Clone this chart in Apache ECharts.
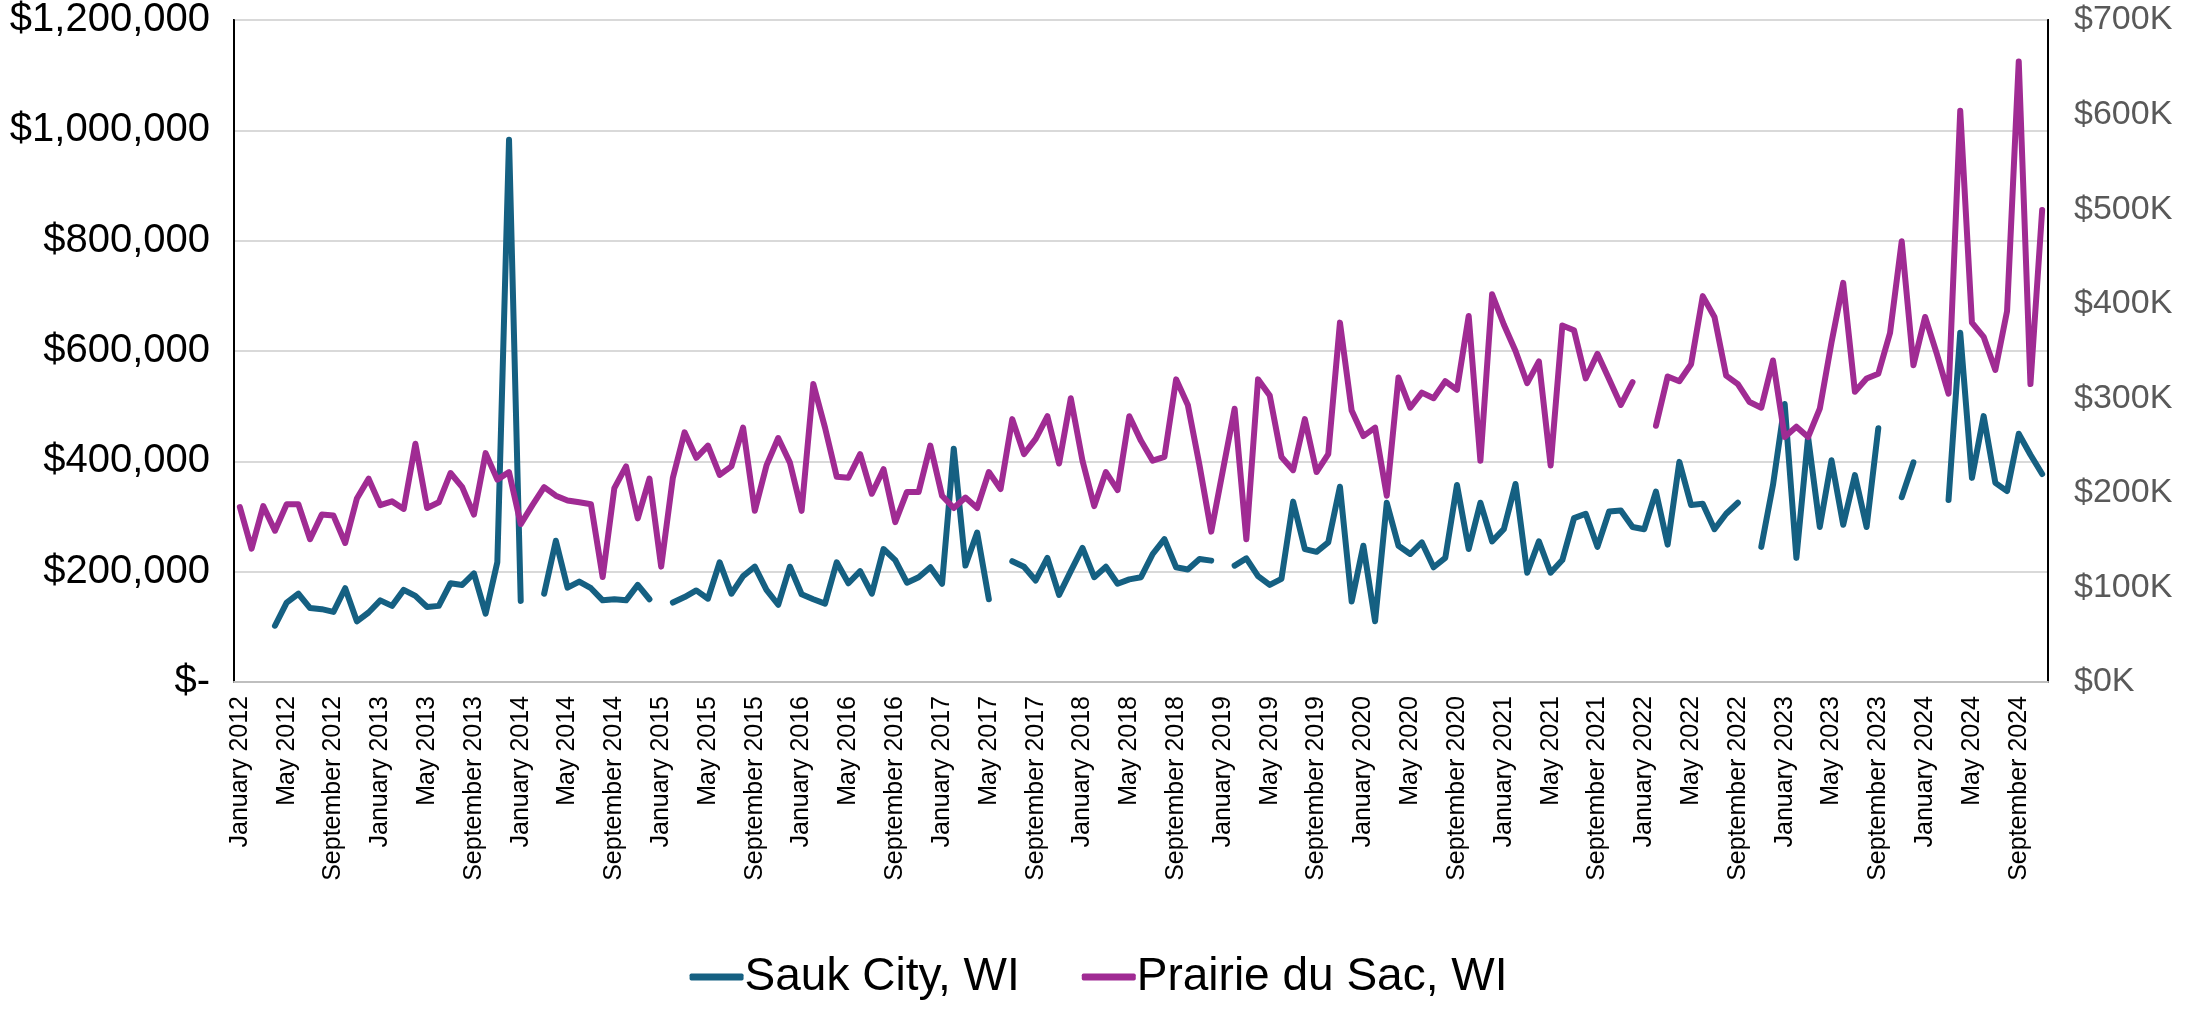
<!DOCTYPE html>
<html>
<head>
<meta charset="utf-8">
<script src="https://cdn.jsdelivr.net/npm/echarts@6/dist/echarts.min.js"></script>
<style>
  html, body { margin: 0; padding: 0; background: #fff; }
  #chart { width: 2197px; height: 1009px; }
</style>
</head>
<body>
<div id="chart"></div>
<script>
/* monthly data, January 2012 - November 2024 */
var monthNames = ['January', 'February', 'March', 'April', 'May', 'June', 'July',
    'August', 'September', 'October', 'November', 'December'];
var firstYear = 2012;
var monthCount = 155;

// Sauk City, WI  (left axis, $K)
var saukCity = [
    null, null, null, 102, 144, 160, 134, 132, 127, 170, 110, 126,
    148, 138, 167, 156, 136, 138, 179, 176, 197, 124, 217, 983,
    147, null, 160, 256, 171, 182, 170, 148, 150, 148, 176, 150,
    null, 144, 154, 166, 151, 217, 160, 192, 209, 167, 140, 209,
    159, 150, 142, 217, 179, 201, 160, 241, 221, 180, 190, 208,
    178, 423, 211, 271, 150, null, 219, 209, 184, 225, 158, 201,
    243, 190, 209, 178, 186, 190, 232, 259, 208, 204, 223, 220,
    null, 211, 224, 192, 176, 187, 327, 241, 236, 253, 354, 146,
    247, 110, 325, 247, 232, 253, 208, 225, 357, 241, 325, 255,
    277, 359, 198, 255, 198, 221, 297, 305, 245, 309, 311, 281,
    277, 345, 249, 399, 321, 323, 277, 305, 325, null, 245, 357,
    504, 225, 444, 281, 402, 285, 375, 281, 460, null, 335, 398,
    null, null, 330, 633, 370, 482, 361, 346, 450, 412, 377
];

// Prairie du Sac, WI  (right axis, $K)
var prairieDuSac = [
    185, 141, 186, 160, 188, 188, 151, 177, 176, 147, 194, 215,
    187, 191, 183, 252, 184, 190, 221, 206, 177, 242, 214, 222,
    167, 187, 206, 197, 192, 190, 188, 111, 205, 228, 173, 215,
    122, 216, 264, 237, 250, 219, 228, 269, 181, 229, 258, 232,
    181, 315, 269, 217, 216, 241, 199, 225, 169, 201, 201, 250,
    197, 184, 195, 184, 222, 204, 278, 241, 257, 281, 231, 300,
    234, 186, 222, 203, 281, 255, 234, 238, 320, 293, 229, 159,
    224, 289, 151, 320, 303, 238, 224, 278, 222, 241, 380, 287,
    260, 269, 197, 322, 290, 306, 300, 318, 309, 387, 234, 410,
    378, 350, 316, 339, 229, 377, 372, 321, 347, 320, 293, 317,
    null, 271, 323, 318, 336, 408, 386, 324, 315, 296, 290, 340,
    259, 270, 259, 289, 359, 422, 307, 321, 326, 369, 466, 335,
    386, 347, 305, 604, 380, 365, 330, 392, 656, 315, 499
];

var months = [];
for (var i = 0; i < monthCount; i++) {
    months.push(monthNames[i % 12] + ' ' + (firstYear + Math.floor(i / 12)));
}

var toDollars = function (arr) {
    return arr.map(function (v) { return v == null ? null : v * 1000; });
};

var chart = echarts.init(document.getElementById('chart'));

chart.setOption({
    animation: false,
    backgroundColor: '#fff',
    textStyle: { fontFamily: 'Liberation Sans, Arial, sans-serif' },
    grid: {
        left: 234, right: 149, top: 20, bottom: 327,
        show: true, borderColor: '#000', borderWidth: 2
    },
    legend: {
        bottom: 4,
        left: 'center',
        itemWidth: 54,
        itemHeight: 7,
        itemGap: 62,
        icon: 'roundRect',
        textStyle: {
            fontFamily: 'Liberation Sans Narrow, Arial Narrow, Liberation Sans, sans-serif',
            fontSize: 46,
            color: '#000',
            padding: [0, 0, 0, -4]
        },
        data: ['Sauk City, WI', 'Prairie du Sac, WI']
    },
    xAxis: {
        type: 'category',
        data: months,
        boundaryGap: true,
        axisLine: { show: true, lineStyle: { color: '#bfbfbf', width: 2 } },
        axisTick: { show: false },
        axisLabel: {
            interval: 3,
            rotate: 90,
            margin: 14,
            fontSize: 25,
            color: '#000'
        }
    },
    yAxis: [
        {
            type: 'value',
            min: 0,
            max: 1200000,
            interval: 200000,
            axisLine: { show: true, lineStyle: { color: '#000', width: 2 } },
            axisTick: { show: false },
            splitLine: { lineStyle: { color: '#d9d9d9', width: 2 } },
            axisLabel: {
                margin: 24,
                fontSize: 40,
                color: '#000',
                formatter: function (v) {
                    return v === 0 ? '$-' : '$' + v.toLocaleString('en-US');
                }
            }
        },
        {
            type: 'value',
            min: 0,
            max: 700000,
            interval: 100000,
            position: 'right',
            axisLine: { show: true, lineStyle: { color: '#000', width: 2 } },
            axisTick: { show: false },
            splitLine: { show: false },
            axisLabel: {
                margin: 26,
                fontSize: 34,
                color: '#595959',
                formatter: function (v) { return '$' + (v / 1000) + 'K'; }
            }
        }
    ],
    series: [
        {
            name: 'Sauk City, WI',
            type: 'line',
            yAxisIndex: 0,
            data: toDollars(saukCity),
            showSymbol: false,
            connectNulls: false,
            color: '#156082',
            lineStyle: { width: 6, cap: 'round', join: 'round' }
        },
        {
            name: 'Prairie du Sac, WI',
            type: 'line',
            yAxisIndex: 1,
            data: toDollars(prairieDuSac),
            showSymbol: false,
            connectNulls: false,
            color: '#A02B93',
            lineStyle: { width: 6, cap: 'round', join: 'round' }
        }
    ]
});
</script>
</body>
</html>
